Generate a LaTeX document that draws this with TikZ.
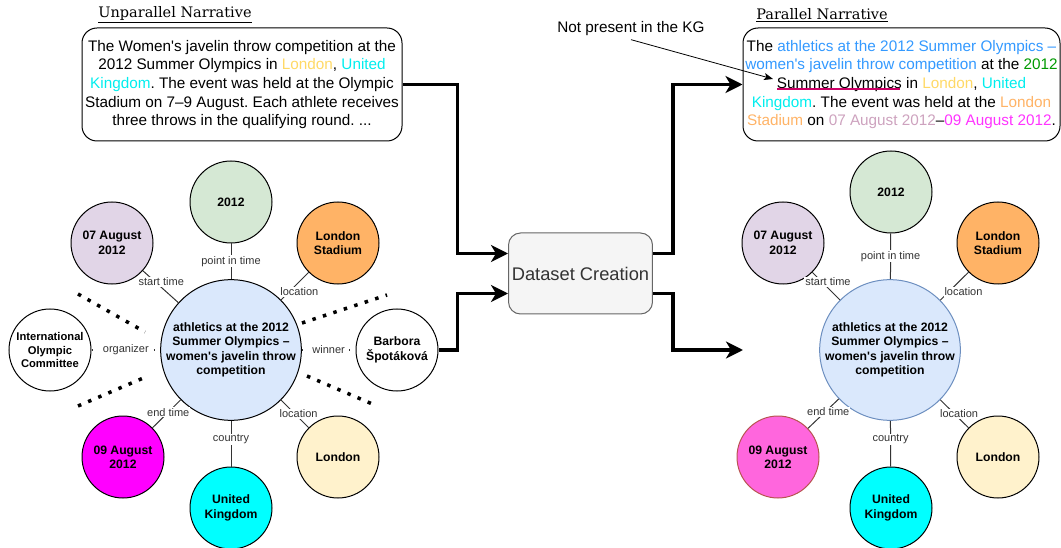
\documentclass[tikz,border=0pt]{standalone}
\usepackage{fontspec}
\setmainfont{Liberation Sans}
\newfontfamily\titlefont{DejaVu Serif}
\usetikzlibrary{arrows.meta}

\definecolor{nGreen}{HTML}{D5E8D4}
\definecolor{nPurple}{HTML}{E1D5E7}
\definecolor{nOrange}{HTML}{FFB366}
\definecolor{nBlue}{HTML}{DAE8FC}
\definecolor{nBlueLine}{HTML}{6C8EBF}
\definecolor{nYellow}{HTML}{FFF2CC}
\definecolor{nCyan}{HTML}{00FFFF}
\definecolor{nMagenta}{HTML}{FF00FF}
\definecolor{nPink}{HTML}{FF66DD}
\definecolor{nPinkLine}{HTML}{B85450}
\definecolor{tBlue}{HTML}{3399FF}
\definecolor{tGreen}{HTML}{009900}
\definecolor{tYellow}{HTML}{FFD966}
\definecolor{tCyan}{HTML}{00EEEE}
\definecolor{tOrange}{HTML}{FFB366}
\definecolor{tMauve}{HTML}{CDA2BE}
\definecolor{tMagenta}{HTML}{FF33FF}
\definecolor{tUnder}{HTML}{CC0066}
\definecolor{boxGray}{HTML}{F5F5F5}
\definecolor{boxLine}{HTML}{666666}

\begin{document}
\frenchspacing
\begin{tikzpicture}[x=1pt, y=-1pt,
  ent/.style={circle, draw, line width=1, minimum size=82, inner sep=0, align=center,
    font=\fontsize{12.2}{14.4}\selectfont\bfseries},
  hub/.style={ent, minimum size=132, fill=nBlue},
  rel/.style={font=\fontsize{11}{13}\selectfont, text=black!80, fill=white, inner sep=1},
  link/.style={draw=black!80, line width=1},
  dotlink/.style={link, line width=1.3, dash pattern=on 1.3 off 6.5},
  sep/.style={line width=3.5, dash pattern=on 3.5 off 7.5},
  big/.style={line width=3.3, -{Stealth[length=17, width=17, inset=5]}},
  txtbox/.style={draw, line width=1, rounded corners=15, align=center, inner sep=0,
    minimum height=113, font=\fontsize{15.3}{18.7}\selectfont},
  title/.style={font=\titlefont\fontsize{14.5}{17}\selectfont}
]
\useasboundingbox (0,0) rectangle (1061,548);

% 文本框
\node[title] (ltitle) at (175,15) {\underline{Unparallel Narrative}};
\node[title] (rtitle) at (822,15) {\underline{Parallel Narrative}};
\node[txtbox, minimum width=320] (lbox) at (242,84.5) {The Women\textquotesingle s javelin throw competition at the\\
2012 Summer Olympics in \textcolor{tYellow}{London}, \textcolor{tCyan}{United}\\
\textcolor{tCyan}{Kingdom}. The event was held at the Olympic\\
Stadium on 7–9 August. Each athlete receives\\
three throws in the qualifying round. ...};
\node[txtbox, minimum width=317] (rbox) at (901.5,84.5) {The \textcolor{tBlue}{athletics at the 2012 Summer Olympics –}\\
\textcolor{tBlue}{women\textquotesingle s javelin throw competition} at the \textcolor{tGreen}{2012}\\
Summer Olympics in \textcolor{tYellow}{London}, \textcolor{tCyan}{United}\\
\textcolor{tCyan}{Kingdom}. The event was held at the \textcolor{tOrange}{London}\\
\textcolor{tOrange}{Stadium} on \textcolor{tMauve}{07 August 2012}–\textcolor{tMagenta}{09 August 2012}.};
\draw[tUnder, line width=1.5] (777,89) -- (900,89);

% 标注
\node[font=\fontsize{15.3}{18}\selectfont] (np) at (631,29) {Not present in the KG};
\coordinate (kg) at (773,79);
\draw[line width=0.8, -{Stealth[length=9, width=7, inset=2]}] (np.south) -- (kg);

% 中间框
\node[draw=boxLine, fill=boxGray, line width=1, rounded corners=12, minimum width=143,
  minimum height=81, text=black!80, font=\fontsize{18.3}{20}\selectfont] (ds) at (580.5,273.5) {Dataset Creation};

% 左图
\node[hub] (lcen) at (231,350) {athletics at the 2012\\Summer Olympics –\\women\textquotesingle s javelin throw\\competition};
\node[ent, fill=nGreen] (lyear) at (231,202) {2012};
\node[ent, fill=nPurple] (lstart) at (112,243) {07 August\\2012};
\node[ent, fill=nOrange] (lstad) at (338,243) {London\\Stadium};
\node[ent, font=\fontsize{11.2}{13.6}\selectfont\bfseries] (lorg) at (50,350) {International\\Olympic\\Committee};
\node[ent] (lwin) at (397,350) {Barbora\\Špotáková};
\node[ent, fill=nMagenta] (lend) at (123,457) {09 August\\2012};
\node[ent, fill=nCyan] (lctry) at (231,508) {United\\Kingdom};
\node[ent, fill=nYellow] (lcity) at (338,457) {London};

\draw[link] (lyear) -- node[rel] {point in time} (lcen);
\draw[link] (lstart) -- node[rel, pos=0.35, xshift=6] {start time} (lcen);
\draw[link] (lstad) -- node[rel, pos=0.7, xshift=10] {location} (lcen);
\draw[link] (lend) -- node[rel, pos=0.56] {end time} (lcen);
\draw[link] (lctry) -- node[rel, pos=0.59] {country} (lcen);
\draw[link] (lcity) -- node[rel, pos=0.51, xshift=4] {location} (lcen);
\draw[dotlink] (lorg) -- node[rel, inner xsep=4] {organizer} (lcen);
\draw[dotlink] (lcen) -- node[rel, inner xsep=4] {winner} (lwin);

% 粗点线
\draw[sep] (78,294) -- (145,332);
\draw[sep] (78,406) -- (148,376);
\draw[sep] (302,323) -- (387,295);
\draw[sep] (307,376) -- (377,406);

% 右图
\node[hub, draw=nBlueLine] (rcen) at (890,350) {athletics at the 2012\\Summer Olympics –\\women\textquotesingle s javelin throw\\competition};
\node[ent, fill=nGreen] (ryear) at (891,192) {2012};
\node[ent, fill=nPurple] (rstart) at (783,243) {07 August\\2012};
\node[ent, fill=nOrange] (rstad) at (998,243) {London\\Stadium};
\node[ent, fill=nPink, draw=nPinkLine] (rend) at (778,457) {09 August\\2012};
\node[ent, fill=nCyan] (rctry) at (891,508) {United\\Kingdom};
\node[ent, fill=nYellow] (rcity) at (998,457) {London};

\draw[link] (ryear) -- node[rel] {point in time} (rcen);
\draw[link] (rstart) -- node[rel, pos=0.35, xshift=6] {start time} (rcen);
\draw[link] (rstad) -- node[rel, pos=0.71, xshift=15] {location} (rcen);
\draw[link] (rend) -- node[rel, pos=0.56, xshift=3] {end time} (rcen);
\draw[link] (rctry) -- node[rel, pos=0.59] {country} (rcen);
\draw[link] (rcity) -- node[rel, pos=0.51, xshift=5] {location} (rcen);

% 粗箭头
\coordinate (rin) at (743,350);
\draw[big] (lbox.east) -- ++(55,0) |- ([yshift=20]ds.west);
\draw[big] (lwin.east) -- ++(19,0) |- ([yshift=-20]ds.west);
\draw[big] ([yshift=20]ds.east) -- ++(20,0) |- (rbox.west);
\draw[big] ([yshift=-20]ds.east) -- ++(20,0) |- (rin);

\end{tikzpicture}
\end{document}
